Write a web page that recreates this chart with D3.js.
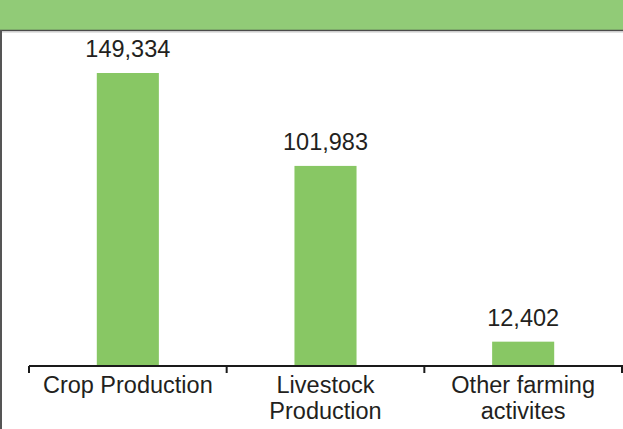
<!DOCTYPE html>
<html lang="en">
<head>
  <meta charset="UTF-8">
  <title>Farming output</title>
  <script src="https://d3js.org/d3.v7.min.js"></script>
  <style>
    body {
      margin: 0;
      padding: 0;
      background-color: #fff;
      font-family: "Liberation Sans", Arial, Helvetica, sans-serif;
    }
    .bar {
      fill: #88c764;
    }
    .value-label, .cat-label {
      font-size: 23.5px;
      fill: #231f20;
      text-anchor: middle;
    }
    .axis-line {
      stroke: #1a1a1a;
      stroke-width: 2px;
    }
  </style>
</head>
<body>
  <svg id="chart" width="623" height="429"></svg>

  <script>
    const categories = ["Crop Production", "Livestock Production", "Other farming activites"];
    const categoryLines = [["Crop Production"], ["Livestock", "Production"], ["Other farming", "activites"]];
    const values = [149334, 101983, 12402];

    const W = 623, H = 429;
    const baseline = 366;
    const axisLeft = 29, axisRight = 622;

    const svg = d3.select("#chart");

    // header band and frame
    svg.append("rect")
      .attr("x", 0).attr("y", 0)
      .attr("width", W).attr("height", 30)
      .attr("fill", "#91cb77");
    svg.append("line")
      .attr("x1", 0).attr("x2", W).attr("y1", 30.5).attr("y2", 30.5)
      .attr("stroke", "#4a4a4a").attr("stroke-width", 1.5);
    svg.append("line")
      .attr("x1", 0).attr("x2", W).attr("y1", 32).attr("y2", 32)
      .attr("stroke", "#c8c8c8").attr("stroke-width", 1);
    svg.append("line")
      .attr("x1", 1).attr("x2", 1).attr("y1", 30).attr("y2", H)
      .attr("stroke", "#555").attr("stroke-width", 2);

    const x = d3.scaleBand()
      .domain(categories)
      .range([axisLeft, axisRight])
      .paddingInner(0.686)
      .paddingOuter(0.343);

    const y = d3.scaleLinear()
      .domain([0, 160000])
      .range([baseline, baseline - 160000 * 0.001962]);

    const data = categories.map((c, i) => ({ cat: c, value: values[i], lines: categoryLines[i] }));

    svg.selectAll(".bar")
      .data(data)
      .enter().append("rect")
      .attr("class", "bar")
      .attr("x", d => x(d.cat))
      .attr("width", x.bandwidth())
      .attr("y", d => y(d.value))
      .attr("height", d => baseline - y(d.value));

    svg.selectAll(".value-label")
      .data(data)
      .enter().append("text")
      .attr("class", "value-label")
      .attr("x", d => x(d.cat) + x.bandwidth() / 2)
      .attr("y", d => y(d.value) - 16)
      .text(d => d3.format(",")(d.value));

    // category axis, ticks sit between the bands
    svg.append("line")
      .attr("class", "axis-line")
      .attr("x1", axisLeft).attr("x2", W)
      .attr("y1", baseline).attr("y2", baseline);

    const tickXs = categories.map(c => x(c) + x.bandwidth() / 2 - x.step() / 2);
    tickXs.push(x(categories[categories.length - 1]) + x.bandwidth() / 2 + x.step() / 2);
    svg.selectAll(".tick")
      .data(tickXs)
      .enter().append("line")
      .attr("x1", d => d).attr("x2", d => d)
      .attr("y1", baseline).attr("y2", baseline + 7)
      .attr("stroke", "#1a1a1a").attr("stroke-width", 2);

    const cat = svg.selectAll(".cat-label")
      .data(data)
      .enter().append("text")
      .attr("class", "cat-label")
      .attr("x", d => x(d.cat) + x.bandwidth() / 2)
      .attr("y", 393);

    cat.selectAll("tspan")
      .data(d => d.lines.map(l => ({ l, cx: x(d.cat) + x.bandwidth() / 2 })))
      .enter().append("tspan")
      .attr("x", d => d.cx)
      .attr("dy", (d, i) => i === 0 ? 0 : 26)
      .text(d => d.l);
  </script>
</body>
</html>
